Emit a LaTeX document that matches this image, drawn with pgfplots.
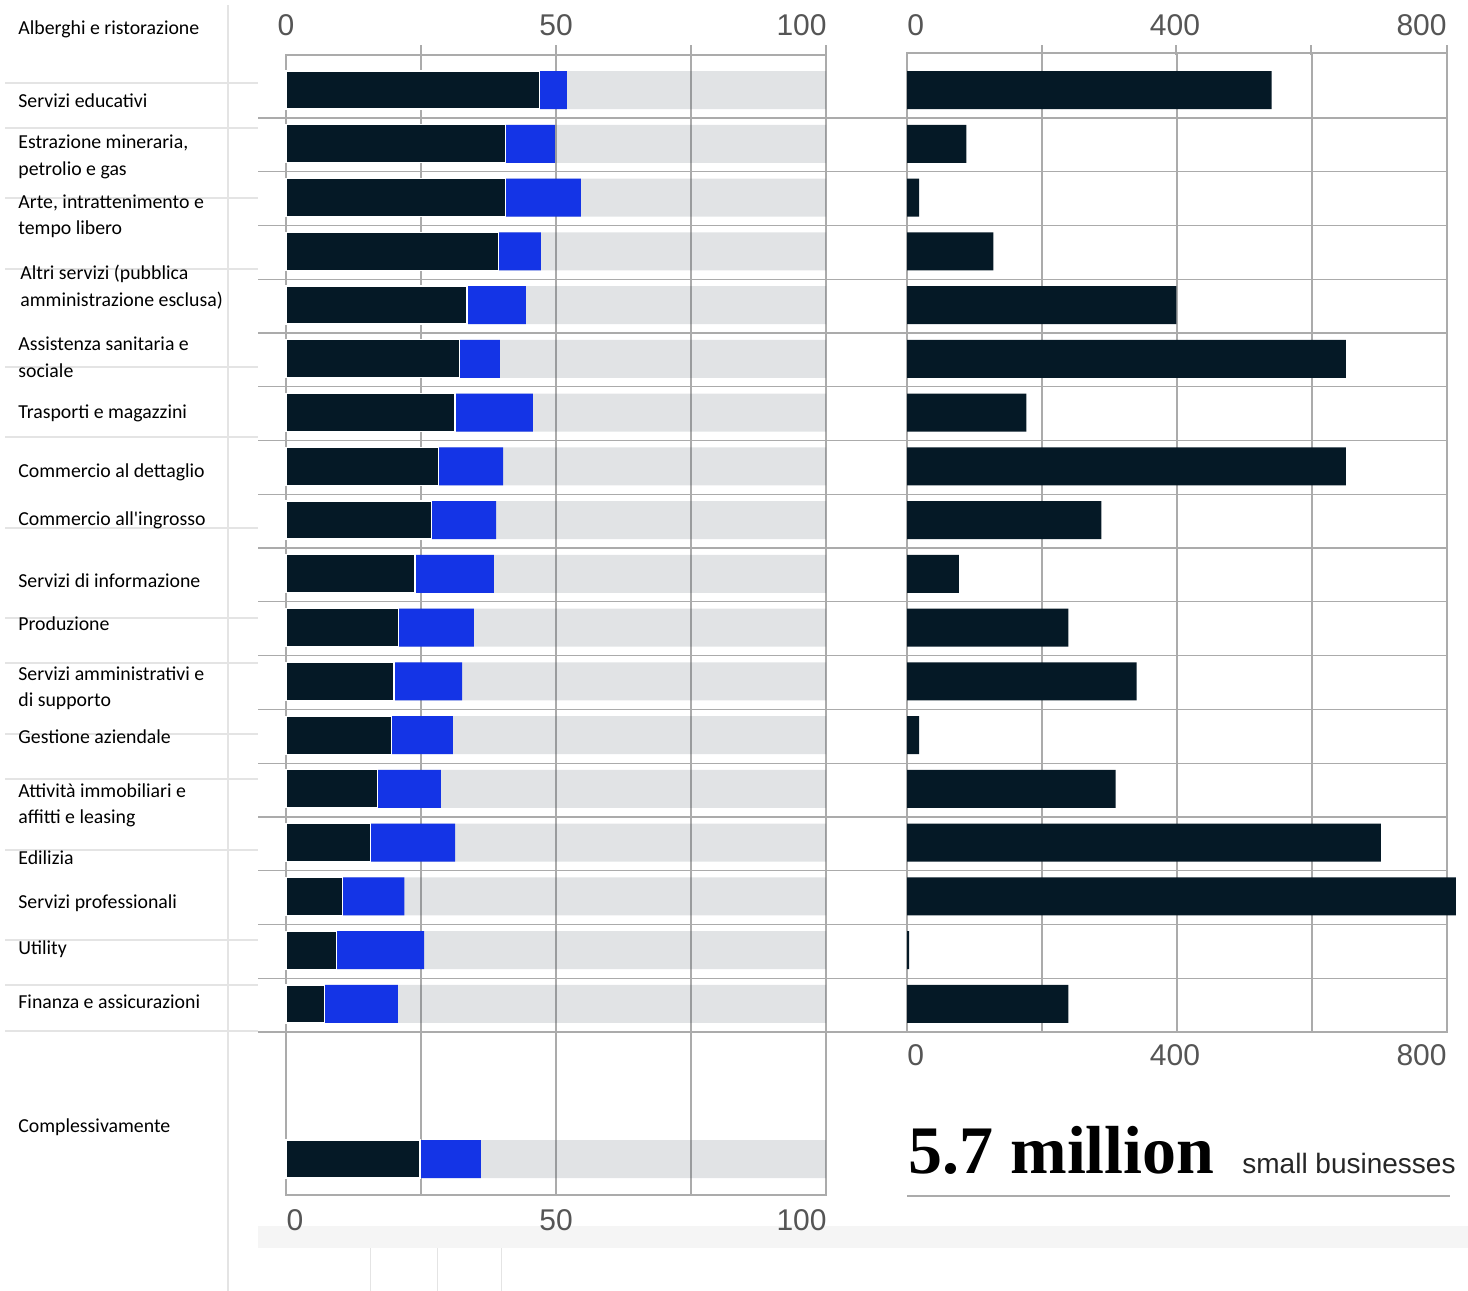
\documentclass[border=0pt]{standalone}
\usepackage{fontspec}
\setmainfont{Carlito}
\newfontfamily\hel{Liberation Sans}
\newfontfamily\tnr{Liberation Serif}
\usepackage{pgfplots}
\pgfplotsset{compat=1.18}
\definecolor{dark}{HTML}{051926}
\definecolor{blu}{HTML}{1434E6}
\definecolor{grd}{HTML}{ABABAB}
\definecolor{lsep}{HTML}{E4E4E4}
\definecolor{tickc}{HTML}{555555}
\definecolor{bgbar}{RGB}{55,68,82}
\definecolor{band}{HTML}{F5F5F5}
\begin{document}
\begin{tikzpicture}
\begin{scope}[x=0.5pt,y=-0.5pt]
\useasboundingbox (0,0) rectangle (1468,1291);
% bottom band and faint lines
\fill[band] (258,1226) rectangle (1468,1248);
\foreach \xx in {370,437,501} \draw[lsep,line width=0.5pt] (\xx,1248) -- (\xx,1291);
% label column lines
\draw[lsep,line width=0.6pt] (228,5) -- (228,1291);
\foreach \yy in {83,128,198,269,367,437,528,618,663,734,779,850,940,985,1031}
  \draw[lsep,line width=0.6pt] (5,\yy) -- (258,\yy);
% panel row separators
\foreach \yy in {118,171.8,225.5,279.3,333,386.8,440.6,494.3,548,601.8,655.6,709.4,763.1,816.9,870.6,924.4,978.2,1032}
  \draw[grd,line width=0.6pt] (258,\yy) -- (1447,\yy);
% short tick extensions above the top frames
\foreach \xx in {421,556,691,826,1042,1176,1311,1447}
  \draw[grd,line width=0.6pt] (\xx,45) -- (\xx,55);
\end{scope}

% left axis
\begin{axis}[at={(143pt,-27.5pt)}, anchor=north west, scale only axis,
  width=270pt, height=570pt, xmin=0, xmax=100, ymin=0.349, ymax=21.555,
  y dir=reverse, xtick={0,25,50,75,100}, xticklabels={}, ytick=\empty,
  major tick length=0pt, xmajorgrids, grid style={grd,line width=0.6pt},
  axis line style={grd,line width=0.6pt}, clip=false]
\addplot[xbar, bar shift=0pt, bar width=19pt, fill=bgbar, fill opacity=0.15, draw=none]
  coordinates {(100,1) (100,2) (100,3) (100,4) (100,5) (100,6) (100,7) (100,8) (100,9)
  (100,10) (100,11) (100,12) (100,13) (100,14) (100,15) (100,16) (100,17) (100,18) (100,20.885)};
% end of blue segment (dark + blue)
\addplot[xbar, bar shift=0pt, bar width=19pt, fill=blu, draw=none]
  coordinates {(52.0,1) (49.8,2) (54.6,3) (47.2,4) (44.4,5) (39.6,6) (45.7,7) (40.2,8) (38.9,9)
  (38.5,10) (34.8,11) (32.6,12) (30.9,13) (28.7,14) (31.3,15) (21.9,16) (25.6,17) (20.7,18) (36.1,20.885)};
% dark segment
\addplot[xbar, bar shift=0pt, bar width=19pt, fill=dark, draw=white, line width=0.6pt]
  coordinates {(47.0,1) (40.6,2) (40.6,3) (39.3,4) (33.5,5) (32.2,6) (31.3,7) (28.3,8) (26.9,9)
  (23.9,10) (20.9,11) (20.0,12) (19.6,13) (16.9,14) (15.7,15) (10.4,16) (9.4,17) (7.2,18) (24.8,20.885)};
\end{axis}

% right axis
\begin{axis}[at={(453.5pt,-26.5pt)}, anchor=north west, scale only axis,
  width=270pt, height=489.5pt, xmin=0, xmax=800, ymin=0.312, ymax=18.522,
  y dir=reverse, xtick={0,200,400,600,800}, xticklabels={}, ytick=\empty,
  major tick length=0pt, xmajorgrids, grid style={grd,line width=0.6pt},
  axis line style={grd,line width=0.6pt}, clip=false]
\addplot[xbar, bar shift=0pt, bar width=19pt, fill=dark, draw=none]
  coordinates {(540,1) (88,2) (18,3) (128,4) (399,5) (650,6) (177,7) (650,8) (288,9)
  (77,10) (239,11) (340,12) (18,13) (309,14) (702,15) (813,16) (3,17) (239,18)};
\end{axis}

\begin{scope}[x=0.5pt,y=-0.5pt]
% tick labels
\begin{scope}[every node/.style={text=tickc, font=\hel\fontsize{15}{15}\selectfont, inner sep=0pt}]
\node at (286,25) {0};
\node at (556,25) {50};
\node[anchor=east] at (827,25) {100};
\node[anchor=west] at (907,25) {0};
\node at (1175,25) {400};
\node[anchor=east] at (1447,25) {800};
\node at (295,1220) {0};
\node at (556,1220) {50};
\node[anchor=east] at (827,1220) {100};
\node[anchor=west] at (907,1055) {0};
\node at (1175,1055) {400};
\node[anchor=east] at (1447,1055) {800};
\end{scope}

% category labels
\begin{scope}[every node/.style={anchor=west, inner sep=0pt, font=\fontsize{9.9}{11}\selectfont}]
\node at (18,29) {Alberghi e ristorazione};
\node at (18,101) {Servizi educativi};
\node at (18,143) {Estrazione mineraria,};
\node at (18,170) {petrolio e gas};
\node at (18,203) {Arte, intrattenimento e};
\node at (18,229) {tempo libero};
\node at (20,274) {Altri servizi (pubblica};
\node at (20,301) {amministrazione esclusa)};
\node at (18,344) {Assistenza sanitaria e};
\node at (18,371) {sociale};
\node at (18,413) {Trasporti e magazzini};
\node at (18,472) {Commercio al dettaglio};
\node at (18,520) {Commercio all\textquotesingle ingrosso};
\node at (18,581) {Servizi di informazione};
\node at (18,624) {Produzione};
\node at (18,674) {Servizi amministrativi e};
\node at (18,701) {di supporto};
\node at (18,737) {Gestione aziendale};
\node at (18,791) {Attività immobiliari e};
\node at (18,818) {affitti e leasing};
\node at (18,858) {Edilizia};
\node at (18,903) {Servizi professionali};
\node at (18,949) {Utility};
\node at (18,1002) {Finanza e assicurazioni};
\node at (18,1127) {Complessivamente};
\end{scope}

% total note
\node[anchor=base west, inner sep=0pt, font=\tnr\bfseries\fontsize{34}{34}\selectfont] at (908,1173) {5.7 million};
\node[anchor=base east, inner sep=0pt, text=black!85, font=\hel\fontsize{14}{14}\selectfont] at (1456,1173) {small businesses};
\draw[grd,line width=0.8pt] (907,1196) -- (1450,1196);
\end{scope}
\end{tikzpicture}
\end{document}
